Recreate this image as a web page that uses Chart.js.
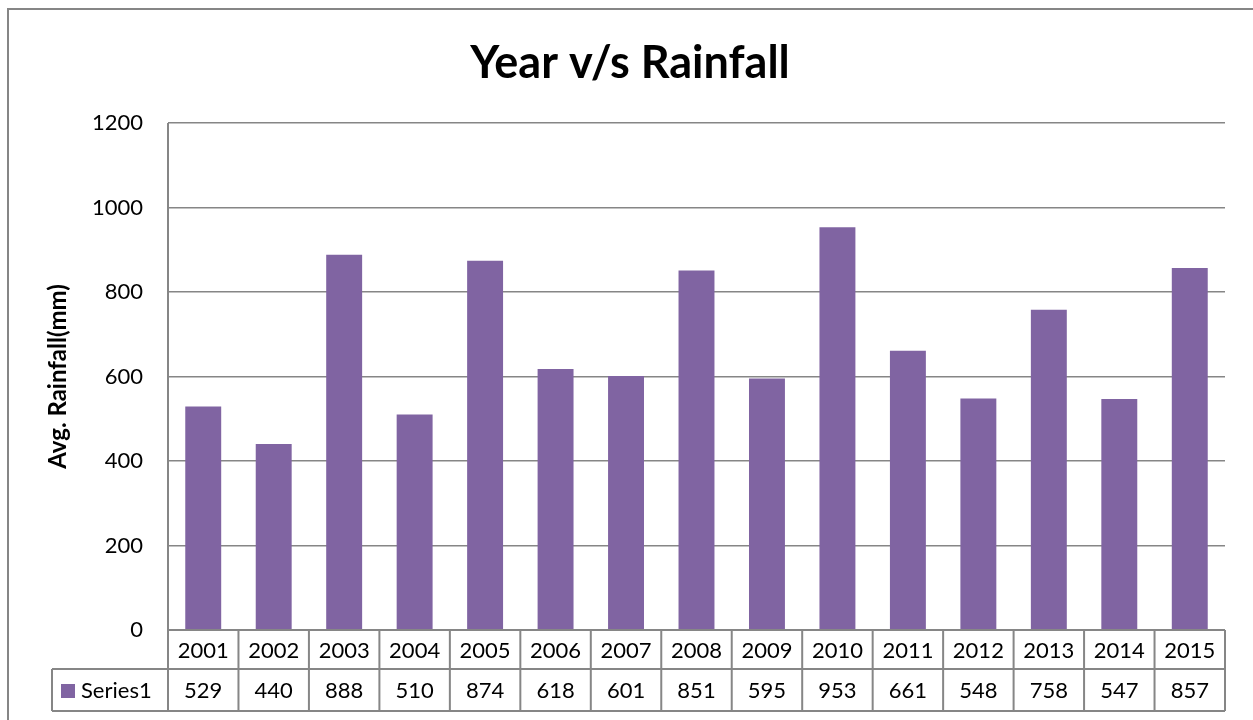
<!DOCTYPE html>
<html>
<head>
<meta charset="utf-8">
<script src="https://cdn.jsdelivr.net/npm/chart.js@4.4.1/dist/chart.umd.min.js"></script>
<style>
  html, body { margin: 0; padding: 0; background: #fff; }
  #wrap { width: 1253px; height: 720px; position: relative; }
</style>
</head>
<body>
<div id="wrap"><canvas id="chart"></canvas></div>
<script>
// ---------------------------
// Data
// ---------------------------
const years = ["2001", "2002", "2003", "2004", "2005", "2006", "2007", "2008",
               "2009", "2010", "2011", "2012", "2013", "2014", "2015"];
const rainfall = [529, 440, 888, 510, 874, 618, 601, 851, 595, 953, 661, 548, 758, 547, 857];
const seriesName = "Series1";
const chartTitle = "Year v/s Rainfall";
const yTitle = "Avg. Rainfall(mm)";

const BAR = "#8064A2";
const LINE = "#868686";
const FONT = "Lato, 'Open Sans', sans-serif";

// ---------------------------
// Data table under the x axis + outer frame
// ---------------------------
const tablePlugin = {
    id: "dataTable",
    beforeDraw(chart) {
        const ctx = chart.ctx;
        ctx.save();
        ctx.strokeStyle = LINE;
        ctx.lineWidth = 2;
        ctx.strokeRect(8, 9, 1400, 900);
        ctx.restore();
    },
    afterDraw(chart) {
        const ctx = chart.ctx;
        const x = chart.scales.x;
        const area = chart.chartArea;
        const top = area.bottom;
        const mid = top + 39;
        const bot = top + 81;
        const keyLeft = 52;

        ctx.save();
        ctx.strokeStyle = LINE;
        ctx.lineWidth = 2;
        ctx.beginPath();
        // horizontal lines
        ctx.moveTo(area.left, top); ctx.lineTo(area.right, top);
        ctx.moveTo(keyLeft, mid); ctx.lineTo(area.right, mid);
        ctx.moveTo(keyLeft, bot); ctx.lineTo(area.right, bot);
        // left legend cell + axis line
        ctx.moveTo(keyLeft, mid); ctx.lineTo(keyLeft, bot);
        ctx.moveTo(area.left, area.top); ctx.lineTo(area.left, bot);
        // category boundaries
        const step = (area.right - area.left) / years.length;
        years.forEach((y, i) => {
            const bx = x.getPixelForValue(i) + step / 2;
            ctx.moveTo(bx, top); ctx.lineTo(bx, bot);
        });
        ctx.stroke();

        ctx.fillStyle = "#000";
        ctx.font = "22px " + FONT;
        ctx.textAlign = "center";
        ctx.textBaseline = "middle";
        years.forEach((y, i) => {
            const cx = x.getPixelForValue(i);
            ctx.fillText(y, cx, (top + mid) / 2 + 1);
            ctx.fillText(String(rainfall[i]), cx, (mid + bot) / 2 + 1);
        });

        // legend key
        ctx.fillStyle = BAR;
        ctx.fillRect(61, mid + 15, 14, 14);
        ctx.fillStyle = "#000";
        ctx.textAlign = "left";
        ctx.fillText(seriesName, 81, (mid + bot) / 2 + 1);
        ctx.restore();
    }
};

new Chart(document.getElementById("chart"), {
    type: "bar",
    data: {
        labels: years,
        datasets: [{
            label: seriesName,
            data: rainfall,
            backgroundColor: BAR,
            categoryPercentage: 1.0,
            barPercentage: 0.51
        }]
    },
    options: {
        responsive: true,
        maintainAspectRatio: false,
        animation: false,
        layout: { padding: { left: 35, right: 28, top: 0, bottom: 90 } },
        plugins: {
            legend: { display: false },
            tooltip: { enabled: false },
            title: {
                display: true,
                text: chartTitle,
                color: "#000",
                font: { family: FONT, size: 45, weight: "bold" },
                padding: { top: 36, bottom: 33 }
            }
        },
        scales: {
            x: {
                ticks: { display: false },
                grid: { display: false },
                border: { display: false },
                afterFit: s => { s.height = 0; }
            },
            y: {
                min: 0,
                max: 1200,
                ticks: {
                    stepSize: 200,
                    color: "#000",
                    padding: 25,
                    font: { family: FONT, size: 22 },
                    callback: v => String(v)
                },
                grid: { color: LINE, lineWidth: 1.5, drawTicks: false },
                border: { display: false },
                title: {
                    display: true,
                    text: yTitle,
                    color: "#000",
                    font: { family: FONT, size: 24, weight: "bold" },
                    padding: { top: 9, bottom: 0 }
                },
                afterFit: s => { s.width = 133; }
            }
        }
    },
    plugins: [tablePlugin]
});
</script>
</body>
</html>
